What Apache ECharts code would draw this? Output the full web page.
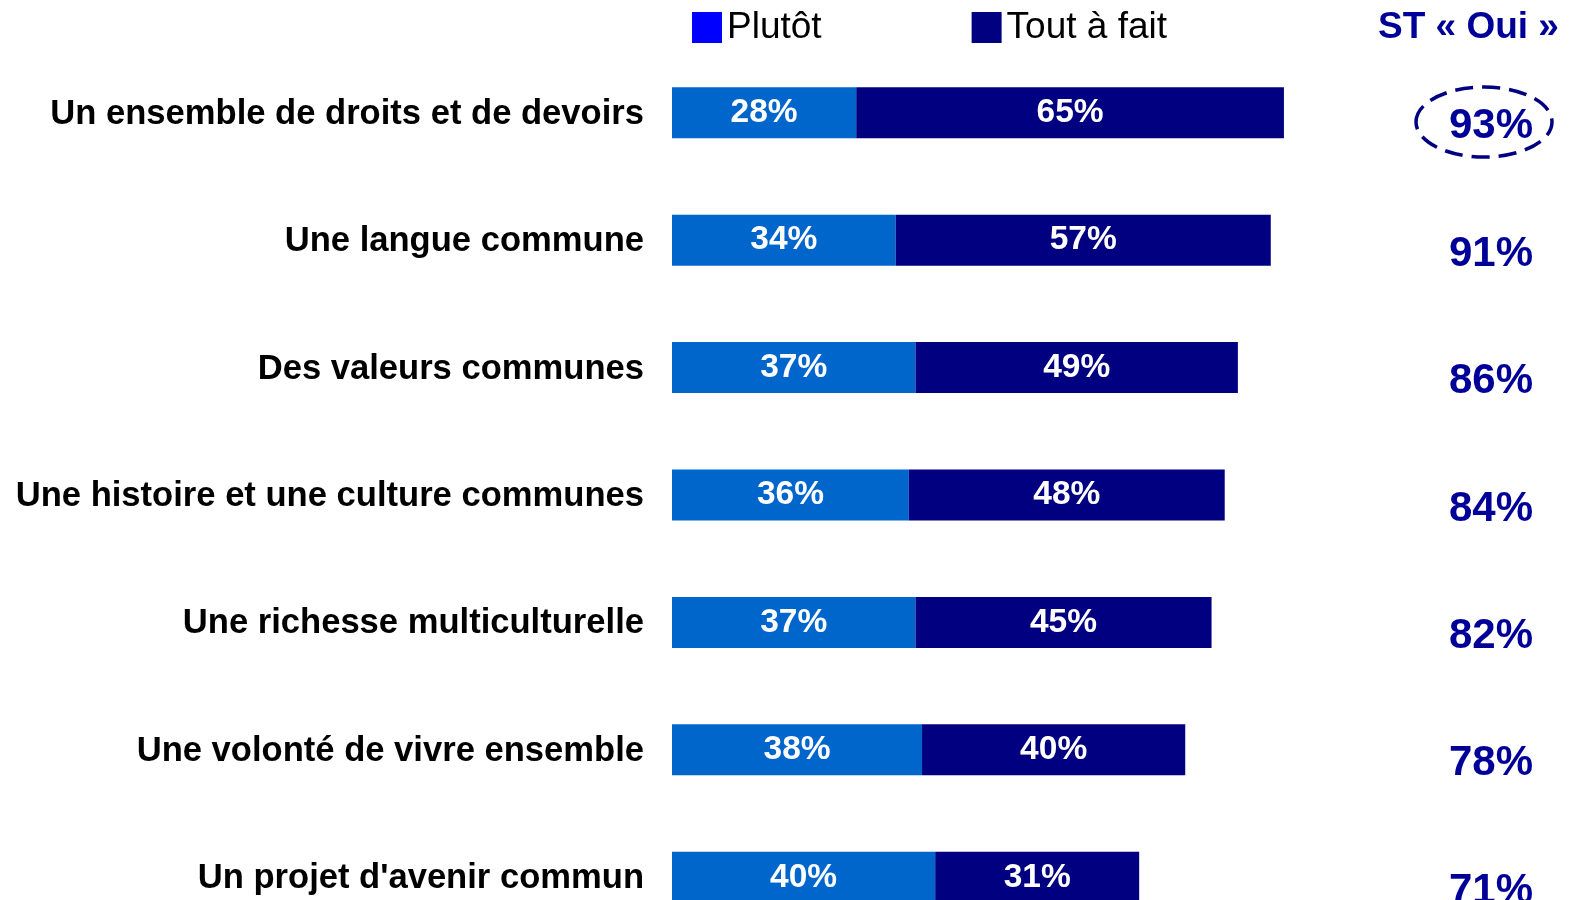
<!DOCTYPE html>
<html lang="fr">
<head>
    <meta charset="UTF-8">
    <title>ST Oui</title>
    <script src="https://cdn.jsdelivr.net/npm/echarts@6/dist/echarts.min.js"></script>
    <style>
        html,body{margin:0;padding:0;background:#fff;}
        #main{width:1569px;height:900px;}
    </style>
</head>
<body>
<div id="main"></div>
<script>
    // donnees -------------------------
    var categories = [
        'Un ensemble de droits et de devoirs',
        'Une langue commune',
        'Des valeurs communes',
        'Une histoire et une culture communes',
        'Une richesse multiculturelle',
        'Une volonté de vivre ensemble',
        "Un projet d'avenir commun"
    ];
    var plutot = [28, 34, 37, 36, 37, 38, 40];
    var toutAFait = [65, 57, 49, 48, 45, 40, 31];
    var stOui = [93, 91, 86, 84, 82, 78, 71];

    var FONT = '"Liberation Sans", Arial, sans-serif';

    function bars() {
        var chart = echarts.init(document.getElementById('main'));
        var option = {
            animation: false,
            title: {
                text: 'ST « Oui »',
                left: 1373,
                top: 4,
                textStyle: {
                    color: '#000099',
                    fontSize: 37,
                    fontWeight: 'bold',
                    fontFamily: FONT
                }
            },
            legend: {
                left: 687,
                top: 4,
                icon: 'rect',
                itemWidth: 30,
                itemHeight: 31,
                itemGap: 150,
                textStyle: {
                    color: '#000',
                    fontSize: 37,
                    fontFamily: FONT
                },
                data: [
                    {name: 'Plutôt', itemStyle: {color: '#0000FF'}},
                    {name: 'Tout à fait', itemStyle: {color: '#000080'}}
                ]
            },
            grid: {
                left: 672,
                top: 49,
                width: 658,
                height: 892,
                containLabel: false,
                outerBoundsMode: 'none'
            },
            xAxis: {
                type: 'value',
                min: 0,
                max: 100,
                show: false
            },
            yAxis: [
                {
                    type: 'category',
                    inverse: true,
                    data: categories,
                    axisLine: {show: false},
                    axisTick: {show: false},
                    axisLabel: {
                        margin: 28,
                        formatter: '{l|{value}}',
                        rich: {
                            l: {
                                padding: [3, 0, 0, 0],
                                color: '#000',
                                fontSize: 34.6,
                                fontWeight: 'bold',
                                fontFamily: FONT
                            }
                        }
                    }
                },
                {
                    // colonne ST « Oui »
                    type: 'category',
                    inverse: true,
                    position: 'right',
                    data: stOui.map(function (v) { return v + '%'; }),
                    axisLine: {show: false},
                    axisTick: {show: false},
                    axisLabel: {
                        margin: 161,
                        align: 'center',
                        formatter: '{t|{value}}',
                        rich: {
                            t: {
                                padding: [28, 0, 0, 0],
                                color: '#000099',
                                fontSize: 42,
                                fontWeight: 'bold',
                                fontFamily: FONT
                            }
                        }
                    }
                }
            ],
            series: [
                {
                    name: 'Plutôt',
                    type: 'bar',
                    stack: 'total',
                    barWidth: 51,
                    itemStyle: {color: '#0066CC'},
                    label: {
                        show: true,
                        color: '#fff',
                        fontSize: 33.5,
                        fontWeight: 'bold',
                        fontFamily: FONT,
                        formatter: '{c}%'
                    },
                    data: plutot
                },
                {
                    name: 'Tout à fait',
                    type: 'bar',
                    stack: 'total',
                    barWidth: 51,
                    itemStyle: {color: '#000080'},
                    label: {
                        show: true,
                        color: '#fff',
                        fontSize: 33.5,
                        fontWeight: 'bold',
                        fontFamily: FONT,
                        formatter: '{c}%'
                    },
                    data: toutAFait
                }
            ],
            // ellipse en pointilles autour du premier total
            graphic: [
                {
                    type: 'ellipse',
                    shape: {cx: 1484, cy: 122, rx: 68, ry: 35},
                    style: {
                        fill: 'none',
                        stroke: '#000080',
                        lineWidth: 3.5,
                        lineDash: [18, 9]
                    },
                    z: 10
                }
            ]
        };
        chart.setOption(option);
    }
    bars();
</script>
</body>
</html>
